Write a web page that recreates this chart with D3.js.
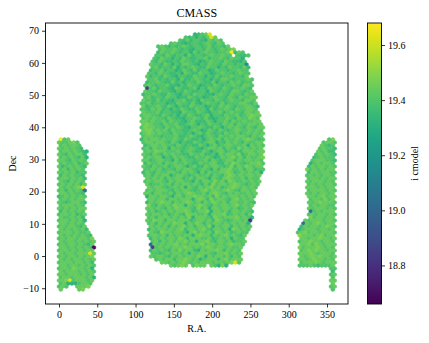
<!DOCTYPE html>
<html>

    <head>
        <meta charset="utf-8">
        <title>CMASS</title>
        <script src="https://d3js.org/d3.v7.min.js"></script>
        <style>
            html, body { margin: 0; padding: 0; background: #fff; }
            svg { display: block; }
            text { font-family: "Liberation Serif", serif; fill: #000; }
        </style>
    </head>

    <body>
        <div id="chart-container"></div>

        <script>
            const xTicks = [ 0, 50, 100, 150, 200, 250, 300, 350 ];
            const yTicks = [ -10, 0, 10, 20, 30, 40, 50, 60, 70 ];
            const colorTicks = [ 18.8, 19.0, 19.2, 19.4, 19.6 ];

            const levelValues = {
                a: 18.70, b: 18.85, c: 19.05, d: 19.17,
                3: 19.32, 4: 19.36, 5: 19.40,
                6: 19.44, 7: 19.47, 8: 19.50, x: 19.62, y: 19.67
            };

            // Hexagon grid of the bins
            const raStep = 4.8;
            const decTop = 68.85;
            const decStep = 0.9325;

            // Big northern patch: rows 0-77 ("." is an empty bin)
            const midFirstRow = 0;
            const midStart = [
                37, 34, 33, 30, 27, 27, 27, 26, 26, 25, 25, 25, 25, 24, 24, 24, 24, 23, 24, 23,
                23, 23, 23, 22, 23, 22, 23, 22, 23, 22, 23, 22, 23, 22, 23, 22, 23, 23, 23, 23,
                23, 23, 23, 23, 23, 23, 23, 23, 24, 23, 24, 24, 24, 23, 24, 24, 24, 24, 24, 24,
                24, 24, 24, 24, 25, 24, 25, 24, 25, 25, 25, 25, 25, 25, 25, 26, 28, 30
            ];
            const midValues = [
                "3456x", "54535 46x6", "54645 54365 65", "56543 45545 65465",
                "56545 45654 55456 45546", "56556 54543 55465 45656 7",
                "46556 54553 64565 54556 y465", "55465 45536 45545 65565 5.544 5",
                "54655 35465 44556 45565 46553", "54654 45465 54534 56554 65443 5",
                "65546 53546 65435 46554 65545 5d", "56455 46354 56544 65535 46554 64",
                "45564 55346 54645 53465 54556 55", "55465 54453 65446 55345 65545 655",
                "64554 65435 54465 53546 45565 546", "55645 45536 44565 45354 66545 5565",
                "45565 44645 35546 54463 55465 6455", "56545 56443 54655 34546 54556 54665",
                "b5645 54365 44563 54655 46545 5654", "65546 55435 46544 55365 45546 65456",
                "45565 44654 35546 55443 56546 55465 5", "56455 46553 44654 53456 55465 46556 6",
                "65546 45435 56445 36554 65456 55466 5", "55645 55344 65546 43565 54645 55665 46",
                "64556 54653 54465 55345 46565 45566 54", "55465 64535 46544 65536 45565 46556 65",
                "65556 45544 36554 65435 56456 55466 56", "56655 46545 35465 44563 55465 56456 766",
                "56565 54654 43556 54643 45565 46557 65", "66565 56465 54356 44465 35564 65565 566",
                "67655 46556 44565 35465 54656 46556 656", "57665 54655 65435 56544 65356 56546 5466",
                "67756 56465 54456 53465 46545 66556 565", "56765 65546 55453 56465 45465 56456 5656",
                "56655 45556 44565 43565 46556 56654 656", "46566 56556 54654 45356 56465 56567 6545",
                "56656 65465 35446 54566 35465 65465 566", "45665 65546 54544 65356 45665 55636 565",
                "56465 56365 54565 43566 56465 47565 656", "56576 65556 45654 46535 66456 54666 566",
                "65465 46565 54465 56445 36566 57456 656", "56566 35465 65446 55653 46567 56465 567",
                "66456 65536 46554 55646 54566 46566 565", "46556 46565 56544 65566 44657 65456 675",
                "65465 56456 65356 44656 65457 46576 566", "55656 45546 56654 56536 46675 56466 455",
                "46546 55665 46565 36465 56676 45656 563", "56465 66356 65456 55646 54676 56566 56",
                "65656 46566 45646 65365 46765 56465 5", "56566 54656 65536 46657 56476 55656 56",
                "64556 56465 66565 46475 66567 65456 5", "65665 45656 36546 56756 45676 56565",
                "56566 65465 66545 67566 56765 46656", "66466 55646 56765 56467 65465 65565 6",
                "36656 65366 46676 65647 56566 56565", "66566 46656 66367 64756 65467 5656",
                "46567 66465 67656 46576 56466 55654", "75465 65766 36567 65465 66567 5656",
                "66565 46576 66547 56366 56656 4565", "56456 56566 76456 67366 56466 5654",
                "65665 64565 47665 56366 67456 5646", "56466 65656 57366 65476 56667 5653",
                "65766 46656 66456 65647 65456 656b", "56465 65766 36576 46566 56565 663",
                "65656 46567 56466 57365 66465 656", "46566 56567 46656 75466 56376 565",
                "65476 65665 36756 56476 56456 55", "56656 46565 66367 66465 67565 46",
                "46565 66576 46665 56456 56365 5", "56465 65667 56366 75466 56455 6",
                "c6565 66756 56667 56656 56766 5", "b5656 56667 65656 76566 56556",
                "46565 46575 66436 56676 46565", "55456 56656 36566 65466 75656",
                "65665 46565 66576 36566 56465", "56566 46676 56356 66467 5666",
                "66565 67656 56665 66567 x5", "65676 .5766 .6537 3"
            ];

            // Left patch: rows 35-85, every row starts at column 0
            const leftFirstRow = 35;
            const leftValues = [
                "y56", "65567 5", "56566 5", "65656 54", "56656 543", "65465 664", "56565 463",
                "66546 565", "56556 456", "64565 654", "56465 65", "65656 455", "46565 54",
                "56656 564", "65465 65", "56565 646", "65656 7x", "56465 65c", "66565 54",
                "45656 565", "56565 66", "65456 654", "56665 65", "65656 566", "46565 65",
                "56656 456", "65565 64", "56656 563", "66565 65", "56566 546", "65656 564",
                "56665 6556", "65656 5654", "56566 56657", "65665 65656", "56566 56546",
                "66565 6565a", "56656 56566", "65665 666x6", "56566 56567", "65656 65656",
                "56665 66564", "66566 56565", "56657 66563", "65666 56565", "66566 65656",
                "56656 66563", "667x5 66656", "56333 5665", "565.. 6667", "6.... 67"
            ];

            // Right patch: rows 35-85
            const rightFirstRow = 35;
            const rightStart = [
                73, 72, 71, 71, 70, 70, 69, 69, 68, 68, 67, 68, 67, 68, 67, 68, 67, 68, 67, 68,
                68, 68, 68, 68, 68, 68, 68, 67, 66, 66, 65, 65, 65, 66, 65, 66, 65, 66, 65, 66,
                65, 66, 65, 74, 74, 74, 74, 74, 74, 74, 74
            ];
            const rightValues = [
                "57", "5665", "6545", "56554", "65644", "56565 4", "45655 5", "56665 54",
                "35656 65", "46566 565", "75656 566", "46656 655", "56565 665", "56656 566",
                "65666 565", "56565 665", "66656 566", "56666 565", "65656 656", "66567 566",
                "56657 56", "65676 665", "56566 55", "65666 565", "c5656 66", "56566 565",
                "75665 66", "65666 5665", "c6567 6566", "46566 56765", "35666 56656",
                "56756 65666 5", "86665 67566", "66566 76656", "56676 65665", "66757 65666",
                "75666 76565", "56767 66566", "66676 56665", "65676 76656", "66567 66565",
                "56667 65666", "55565 45556", "55", "4", "56", "5", "66", "6", "56", "5"
            ];

            const width = 429;
            const height = 343;
            const margin = { left: 45.5, right: 348, top: 23, bottom: 304 };

            const svg = d3.select( "#chart-container" )
                .append( "svg" )
                .attr( "width", width )
                .attr( "height", height );

            const xScale = d3.scaleLinear()
                .domain( [ -17.6, 377.4 ] )
                .range( [ margin.left, margin.right ] );

            const yScale = d3.scaleLinear()
                .domain( [ -14.9, 72.4 ] )
                .range( [ margin.bottom, margin.top ] );

            const colorScale = d3.scaleSequential( d3.interpolateViridis )
                .domain( [ 18.66, 19.68 ] );

            // Turn the row strings into one record per bin
            function addCells( cells, values, firstRow, starts )
            {
                values.forEach( function ( row, r )
                {
                    const rowIndex = firstRow + r;
                    const start = starts ? starts[ r ] : 0;
                    row.replace( / /g, "" ).split( "" ).forEach( function ( level, c )
                    {
                        if ( level === "." ) return;
                        cells.push( {
                            ra: ( start + c + ( rowIndex % 2 ? 0.5 : 0 ) ) * raStep,
                            dec: decTop - rowIndex * decStep,
                            value: levelValues[ level ]
                        } );
                    } );
                } );
                return cells;
            }

            const cells = [];
            addCells( cells, leftValues, leftFirstRow, null );
            addCells( cells, midValues, midFirstRow, midStart );
            addCells( cells, rightValues, rightFirstRow, rightStart );

            // Pointy-top hexagon around a bin centre
            function hexPath( d )
            {
                const halfRa = raStep / 2;
                const r = decStep * 2 / 3;
                const pts = [
                    [ d.ra, d.dec + r ], [ d.ra + halfRa, d.dec + r / 2 ],
                    [ d.ra + halfRa, d.dec - r / 2 ], [ d.ra, d.dec - r ],
                    [ d.ra - halfRa, d.dec - r / 2 ], [ d.ra - halfRa, d.dec + r / 2 ]
                ];
                return "M" + pts.map( p => xScale( p[ 0 ] ) + "," + yScale( p[ 1 ] ) ).join( "L" ) + "Z";
            }

            svg.append( "g" )
                .selectAll( "path" )
                .data( cells )
                .enter()
                .append( "path" )
                .attr( "d", hexPath )
                .attr( "fill", d => colorScale( d.value ) )
                .attr( "stroke", d => colorScale( d.value ) )
                .attr( "stroke-width", 0.6 );

            // Axes
            function styleAxis( g )
            {
                g.selectAll( "text" ).attr( "font-size", 10 );
                g.selectAll( "line" ).attr( "stroke", "#000" ).attr( "stroke-width", 0.8 );
            }

            svg.append( "g" )
                .attr( "transform", "translate(0," + margin.bottom + ")" )
                .call( d3.axisBottom( xScale ).tickValues( xTicks ).tickSize( 3.5 ).tickPadding( 3 ).tickSizeOuter( 0 ) )
                .call( g => g.select( ".domain" ).remove() )
                .call( styleAxis );

            svg.append( "g" )
                .attr( "transform", "translate(" + margin.left + ",0)" )
                .call( d3.axisLeft( yScale ).tickValues( yTicks ).tickSize( 3.5 ).tickPadding( 3 ).tickSizeOuter( 0 )
                    .tickFormat( d => d < 0 ? "\u2212" + Math.abs( d ) : d ) )
                .call( g => g.select( ".domain" ).remove() )
                .call( styleAxis );

            svg.append( "rect" )
                .attr( "x", margin.left )
                .attr( "y", margin.top )
                .attr( "width", margin.right - margin.left )
                .attr( "height", margin.bottom - margin.top )
                .attr( "fill", "none" )
                .attr( "stroke", "#000" )
                .attr( "stroke-width", 0.9 );

            svg.append( "text" )
                .attr( "x", ( margin.left + margin.right ) / 2 )
                .attr( "y", 17 )
                .attr( "text-anchor", "middle" )
                .attr( "font-size", 12 )
                .text( "CMASS" );

            svg.append( "text" )
                .attr( "x", ( margin.left + margin.right ) / 2 )
                .attr( "y", 332 )
                .attr( "text-anchor", "middle" )
                .attr( "font-size", 10 )
                .text( "R.A." );

            svg.append( "text" )
                .attr( "transform", "translate(16," + ( margin.top + margin.bottom ) / 2 + ") rotate(-90)" )
                .attr( "text-anchor", "middle" )
                .attr( "font-size", 10 )
                .text( "Dec" );

            // Colour bar
            const barLeft = 367.5;
            const barWidth = 14;

            const colorAxisScale = d3.scaleLinear()
                .domain( colorScale.domain() )
                .range( [ margin.bottom, margin.top ] );

            const gradient = svg.append( "defs" )
                .append( "linearGradient" )
                .attr( "id", "viridis-bar" )
                .attr( "x1", 0 ).attr( "x2", 0 ).attr( "y1", 1 ).attr( "y2", 0 );

            gradient.selectAll( "stop" )
                .data( d3.range( 0, 1.001, 0.05 ) )
                .enter()
                .append( "stop" )
                .attr( "offset", d => d )
                .attr( "stop-color", d => d3.interpolateViridis( d ) );

            svg.append( "rect" )
                .attr( "x", barLeft )
                .attr( "y", margin.top )
                .attr( "width", barWidth )
                .attr( "height", margin.bottom - margin.top )
                .attr( "fill", "url(#viridis-bar)" )
                .attr( "stroke", "#000" )
                .attr( "stroke-width", 0.9 );

            svg.append( "g" )
                .attr( "transform", "translate(" + ( barLeft + barWidth ) + ",0)" )
                .call( d3.axisRight( colorAxisScale ).tickValues( colorTicks ).tickSize( 3.5 ).tickPadding( 3 ).tickSizeOuter( 0 )
                    .tickFormat( d3.format( ".1f" ) ) )
                .call( g => g.select( ".domain" ).remove() )
                .call( styleAxis );

            svg.append( "text" )
                .attr( "transform", "translate(418," + ( margin.top + margin.bottom ) / 2 + ") rotate(-90)" )
                .attr( "text-anchor", "middle" )
                .attr( "font-size", 10 )
                .text( "i cmodel" );
        </script>
    </body>

</html>
